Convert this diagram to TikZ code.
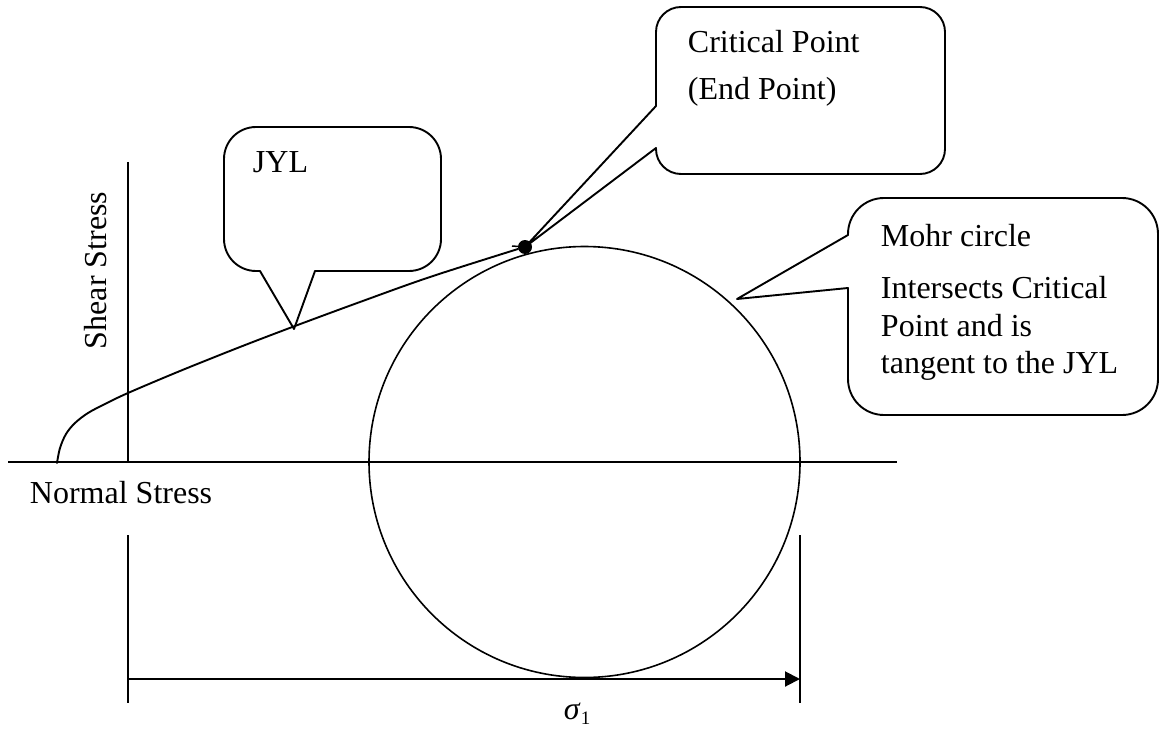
\documentclass[tikz,border=0pt]{standalone}
\usepackage{fontspec}
\setmainfont{Liberation Serif}
\usetikzlibrary{arrows.meta}
\begin{document}
\begin{tikzpicture}[x=1pt,y=-1pt,line width=1.9pt,
  lbl/.style={anchor=base west,inner sep=0pt,font=\fontsize{32}{38}\selectfont},
  balloon/.style={line width=1.9pt,line cap=round,line join=round},
  axisline/.style={line width=2pt}]
\useasboundingbox (0,0) rectangle (1161,730);

% axes
\coordinate (hx0) at (8,462);
\coordinate (hx1) at (897,462);
\coordinate (vy0) at (128,162);
\coordinate (vy1) at (128,462);
\draw[axisline] (hx0) -- (hx1);
\draw[axisline] (vy0) -- (vy1);
\node[lbl] (normal) at (29,503) {Normal Stress};
\node[lbl,rotate=90] (shear) at (106,350) {Shear Stress};

% Mohr circle
\coordinate (mc) at (584.5,462);
\draw[line width=1.6pt] (mc) circle (215.5pt);

% yield locus (JYL) ending at the critical point
\draw[line width=1.9pt,line cap=round] plot[smooth,tension=0.55] coordinates {
  (57,463) (60,448) (66,434) (75,423) (88,413) (105,404) (128,393)
  (180,371) (240,347) (295,326) (360,302) (430,277) (518,249)};
\node[circle,fill=black,inner sep=0pt,minimum size=14pt] (cp) at (525,247) {};
\coordinate (cptail) at (512,246);
\draw[line width=1.5pt] (cptail) -- (cp.center);

% dimension sigma_1
\coordinate (d0a) at (128,535);
\coordinate (d0b) at (128,703);
\coordinate (d1a) at (800,535);
\coordinate (d1b) at (800,703);
\draw[axisline] (d0a) -- (d0b);
\draw[axisline] (d1a) -- (d1b);
\coordinate (ar0) at (128,679);
\coordinate (ar1) at (800,679);
\draw[line width=2pt,-{Triangle[length=15pt,width=15pt]}] (ar0) -- (ar1);
\node[lbl] (sig) at (563,719) {\textit{σ}\raisebox{-0.18em}{\fontsize{19}{19}\selectfont 1}};

% JYL callout
\coordinate (jb1) at (260,271);
\coordinate (jb2) at (315,271);
\coordinate (jtip) at (294,329);
\draw[balloon,rounded corners=32pt] (jb2) -- (441,271) -- (441,127) -- (224,127) -- (224,271) -- (jb1);
\draw[balloon] (jb1) -- (jtip) -- (jb2);
\node[lbl] (jyl) at (252,173) {JYL};

% critical point callout
\coordinate (cb1) at (656,106);
\coordinate (cb2) at (656,148);
\draw[balloon,rounded corners=25pt] (cb2) -- (656,174) -- (945,174) -- (945,7) -- (656,7) -- (cb1);
\draw[balloon] (cb1) -- (cp.center) -- (cb2);
\node[lbl] (crit1) at (687,53) {Critical Point};
\node[lbl] (crit2) at (687,100) {(End Point)};

% Mohr circle callout
\coordinate (mb1) at (848,235);
\coordinate (mb2) at (848,288);
\coordinate (mtip) at (737,299);
\draw[balloon,rounded corners=36pt] (mb2) -- (848,415) -- (1158,415) -- (1158,198) -- (848,198) -- (mb1);
\draw[balloon] (mb1) -- (mtip) -- (mb2);
\node[lbl] (m1) at (880,246) {Mohr circle};
\node[lbl] (m2) at (880,298) {Intersects Critical};
\node[lbl] (m3) at (880,336) {Point and is};
\node[lbl] (m4) at (880,373) {tangent to the JYL};
\end{tikzpicture}
\end{document}
